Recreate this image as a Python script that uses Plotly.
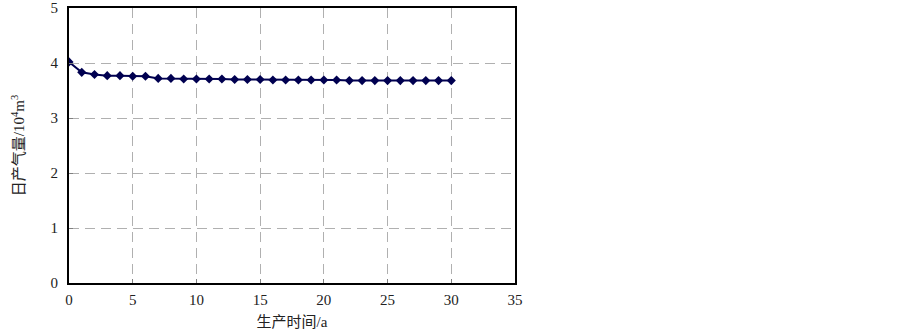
import plotly.graph_objects as go

years = list(range(0, 31))
gas = [4.02, 3.83, 3.79, 3.77, 3.77, 3.76, 3.76, 3.72, 3.72, 3.71, 3.71,
       3.71, 3.71, 3.70, 3.70, 3.70, 3.69, 3.69, 3.69, 3.69, 3.69,
       3.69, 3.68, 3.68, 3.68, 3.68, 3.68, 3.68, 3.68, 3.68, 3.68]
x_title = "生产时间/a"
y_title = "日产气量/10<sup>4</sup>m<sup>3</sup>"

font_fam = "Liberation Serif, Noto Sans CJK SC, serif"

fig = go.Figure()
fig.add_trace(go.Scatter(
    x=years, y=gas, mode="lines+markers",
    line=dict(color="#000050", width=2),
    marker=dict(symbol="diamond", size=7, color="#000050"),
    showlegend=False,
))

axis_common = dict(
    showline=True, linecolor="black", linewidth=2, mirror=True,
    showgrid=True, gridcolor="#b0b0b0", griddash="10px,6px", gridwidth=1,
    zeroline=False, ticks="inside", ticklen=4, tickcolor="#808080",
    tickfont=dict(family=font_fam, size=15, color="#222"),
    automargin=False,
)

fig.update_layout(
    width=903, height=335,
    margin=dict(l=69, r=388, t=8, b=52),
    paper_bgcolor="white", plot_bgcolor="white",
    font=dict(family=font_fam, color="#222"),
    xaxis=dict(range=[0, 35], dtick=5, tick0=0, ticklabelstandoff=2,
               title=dict(text=x_title, font=dict(family=font_fam, size=15), standoff=9),
               **axis_common),
    yaxis=dict(range=[0, 5], dtick=1, tick0=0, ticklabelstandoff=6,
               title=dict(text=y_title, font=dict(family=font_fam, size=15), standoff=22),
               **axis_common),
)

fig.write_html("out.html", config={"displayModeBar": False},
               post_script="document.body.style.margin='0';")
